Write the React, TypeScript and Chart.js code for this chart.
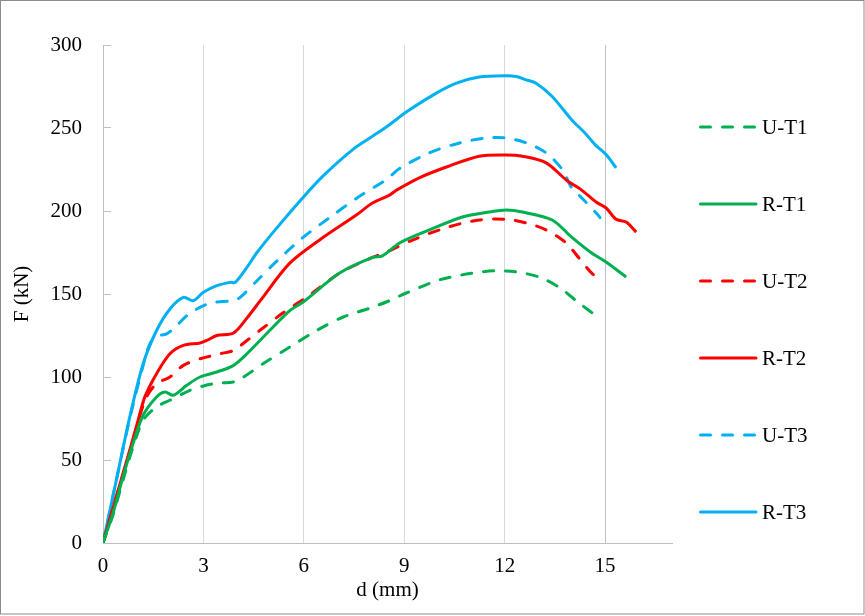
import React, { useEffect, useRef } from 'react';
import { Chart, registerables } from 'chart.js';

Chart.register(...registerables);

const seriesNames = ['U-T1', 'R-T1', 'U-T2', 'R-T2', 'U-T3', 'R-T3'];

const uT1D = [0, 0.3, 0.6, 0.9, 1.2, 1.6, 2.0, 2.6, 3.3, 3.9, 4.2, 4.78, 5.58, 6.38, 7.16, 8.05, 8.56, 9.06, 10.05, 11.04, 11.75, 12.35, 13.03, 13.63, 14.22, 14.82];
const uT1F = [0, 17, 38, 58, 74, 82, 86, 92, 96, 97, 100, 108, 118, 128, 136, 142, 146, 150.6, 158.5, 162.6, 164, 163.3, 160.2, 154, 144.6, 135.5];

const rT1D = [0, 0.3, 0.6, 0.9, 1.2, 1.6, 1.85, 2.1, 2.5, 2.9, 3.4, 3.9, 4.3, 4.98, 5.58, 5.97, 7.07, 8.05, 8.35, 8.86, 9.75, 10.74, 11.54, 12.05, 12.53, 13.42, 14.0, 14.6, 15.03, 15.63];
const rT1F = [0, 18, 40, 60, 77, 88, 91, 89, 95, 100, 103, 107, 114, 128, 140, 145, 162.6, 172, 173, 180.7, 188.6, 196.4, 199.4, 200.6, 199.4, 194.6, 184.3, 174.7, 169.3, 160.2];

const uT2D = [0, 0.4, 0.8, 1.05, 1.3, 1.6, 2.0, 2.4, 2.9, 3.5, 3.9, 4.3, 4.78, 5.37, 6.08, 7.07, 8.05, 8.47, 9.25, 10.26, 11.24, 12.05, 12.65, 13.24, 13.84, 14.22, 14.6, 14.88];
const uT2F = [0, 28, 55, 73, 88, 96, 100, 107, 111, 114, 116, 122, 129.5, 138.5, 148, 162.6, 172, 175.3, 182.5, 190, 194.6, 195, 192.7, 188.6, 180.7, 171.7, 162.6, 158.4];

const rT2D = [0, 0.4, 0.8, 1.05, 1.25, 1.6, 2.0, 2.4, 2.9, 3.1, 3.4, 3.9, 4.3, 4.7, 5.58, 6.57, 7.57, 8.05, 8.56, 8.77, 9.45, 10.26, 11.24, 12.05, 12.53, 13.24, 13.84, 14.3, 14.73, 15.03, 15.33, 15.63, 15.93];
const rT2F = [0, 28, 56, 74, 88, 102, 114, 119, 120.5, 122, 125, 126.5, 135.5, 146, 168.6, 184, 197.6, 204.8, 209.6, 212.6, 220, 226.5, 233, 233.7, 233, 229, 218.7, 212.6, 205.4, 201.8, 195, 193.4, 187.3];

const uT3D = [0, 0.4, 0.8, 1.2, 1.4, 1.6, 1.9, 2.1, 2.6, 3.2, 3.9, 4.1, 4.6, 5.2, 5.97, 6.77, 7.6, 8.47, 8.86, 9.75, 10.65, 11.45, 12.05, 12.65, 13.24, 13.72, 14.0, 14.3, 14.77, 14.85];
const uT3F = [0, 38, 75, 107, 120, 124.5, 126, 129, 138.5, 144.5, 146, 148, 158, 170, 184, 196, 208, 219, 225.6, 235, 241, 244, 244, 241, 235, 225, 214, 208, 198, 196];

const rT3D = [0, 0.4, 0.8, 1.2, 1.6, 2.0, 2.4, 2.7, 3.0, 3.4, 3.8, 3.95, 4.3, 4.6, 5.2, 5.97, 6.57, 7.46, 8.05, 8.56, 9.06, 9.96, 10.56, 11.24, 12.05, 12.35, 12.65, 12.94, 13.42, 14.0, 14.4, 14.7, 15.03, 15.33];
const rT3F = [0, 38, 76, 108, 128, 141, 148, 146, 151, 155, 157, 157, 166, 175, 190, 208, 221, 237, 245, 252, 259.6, 271, 277, 280.7, 281.5, 281, 279, 277, 269, 255, 247, 240, 234, 226];

const seriesD = [uT1D, rT1D, uT2D, rT2D, uT3D, rT3D];
const seriesF = [uT1F, rT1F, uT2F, rT2F, uT3F, rT3F];

const xMin = 0;
const xMax = 17;
const xStep = 3;
const yMin = 0;
const yMax = 300;
const yStep = 50;
const xTitle = 'd (mm)';
const yTitle = 'F (kN)';

const GREEN = '#00B050';
const RED = '#FF0000';
const BLUE = '#00B0F0';
const seriesColors = [GREEN, GREEN, RED, RED, BLUE, BLUE];
const seriesDashed = [true, false, true, false, true, false];
const DASH = [10, 12];
const FONT = "'Liberation Serif', 'DejaVu Serif', serif";

const framePlugin = {
  id: 'frame',
  afterDraw(chart: any) {
    const ctx = chart.ctx;
    ctx.save();
    ctx.strokeStyle = '#8c8c8c';
    ctx.lineWidth = 1;
    ctx.strokeRect(0.5, 0.5, chart.width - 1.5, chart.height - 2.5);
    ctx.restore();
  },
};

const legendPlugin = {
  id: 'sideLegend',
  afterDraw(chart: any) {
    const ctx = chart.ctx;
    const x0 = 700.5;
    const x1 = 756;
    const tx = 762;
    const top = 127;
    const step = 77;
    ctx.save();
    chart.data.datasets.forEach((ds: any, i: number) => {
      const y = top + i * step;
      ctx.beginPath();
      ctx.strokeStyle = ds.borderColor;
      ctx.lineWidth = ds.borderWidth;
      ctx.lineCap = 'round';
      ctx.setLineDash(ds.borderDash || []);
      ctx.moveTo(x0, y);
      ctx.lineTo(x1, y);
      ctx.stroke();
      ctx.setLineDash([]);
      ctx.fillStyle = '#000';
      ctx.font = `21px ${FONT}`;
      ctx.textBaseline = 'middle';
      ctx.textAlign = 'left';
      ctx.fillText(ds.label, tx, y + 1);
    });
    ctx.restore();
  },
};

export default function App() {
  const ref = useRef<HTMLCanvasElement>(null);
  useEffect(() => {
    if (!ref.current) return;
    const datasets = seriesNames.map((name, i) => ({
      label: name,
      data: seriesD[i].map((d, j) => ({ x: d, y: seriesF[i][j] })),
      borderColor: seriesColors[i],
      backgroundColor: seriesColors[i],
      borderWidth: 3,
      borderDash: seriesDashed[i] ? DASH : [],
      borderCapStyle: seriesDashed[i] ? 'round' : 'butt',
      borderJoinStyle: 'round',
      pointRadius: 0,
      pointHoverRadius: 0,
      tension: 0.3,
      fill: false,
    }));
    const chart = new Chart(ref.current, {
      type: 'line',
      data: { datasets } as any,
      options: {
        animation: false,
        responsive: false,
        devicePixelRatio: 1,
        layout: { padding: { left: 0, right: 193, top: 45, bottom: 0 } },
        plugins: {
          legend: { display: false },
          tooltip: { enabled: false },
        },
        scales: {
          x: {
            type: 'linear',
            min: xMin,
            max: xMax,
            afterFit: (s: any) => { s.height = 73; },
            ticks: {
              stepSize: xStep,
              includeBounds: false,
              color: '#000',
              padding: 11,
              font: { family: FONT, size: 21 },
              maxRotation: 0,
            },
            grid: {
              color: (c: any) => (c.tick && c.tick.value === 15 ? '#bfbfbf' : '#d9d9d9'),
              drawTicks: false,
              lineWidth: 1,
            },
            border: { display: true, color: '#bfbfbf', width: 1 },
            title: {
              display: true,
              text: xTitle,
              color: '#000',
              font: { family: FONT, size: 21 },
              padding: { top: 0, bottom: 13 },
            },
          },
          y: {
            type: 'linear',
            min: yMin,
            max: yMax,
            afterFit: (s: any) => { s.width = 103; },
            ticks: {
              stepSize: yStep,
              color: '#000',
              padding: 29,
              font: { family: FONT, size: 21 },
            },
            grid: {
              display: true,
              drawOnChartArea: false,
              drawTicks: true,
              tickLength: -8,
              color: '#bfbfbf',
            },
            border: { display: true, color: '#bfbfbf', width: 1 },
            title: {
              display: true,
              text: yTitle,
              color: '#000',
              font: { family: FONT, size: 21 },
              padding: { top: 9.5, bottom: 0 },
            },
          },
        },
      } as any,
      plugins: [legendPlugin, framePlugin],
    });
    return () => chart.destroy();
  }, []);
  return (
    <div style={{ position: 'fixed', left: 0, top: 0, width: 865, height: 616, background: '#fff' }}>
      <canvas ref={ref} width={865} height={616} style={{ display: 'block', width: 865, height: 616 }} />
    </div>
  );
}
